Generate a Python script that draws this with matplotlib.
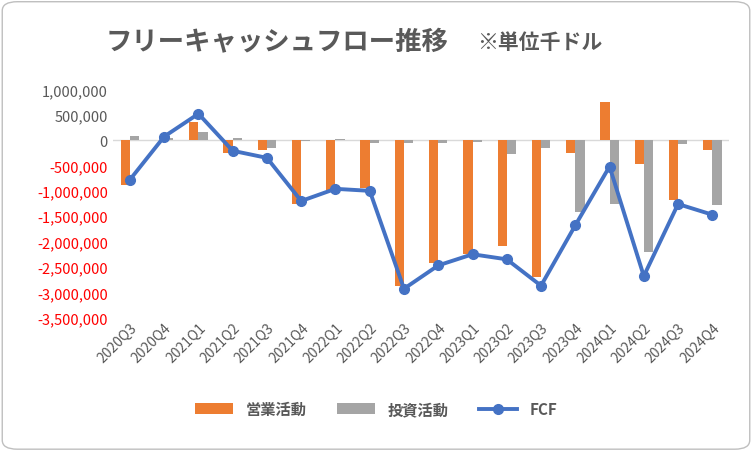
import numpy as np
import matplotlib.pyplot as plt
from matplotlib.patches import FancyBboxPatch
from matplotlib.ticker import FuncFormatter

plt.rcParams['font.family'] = ['Noto Sans CJK JP', 'DejaVu Sans']

quarters = ['2020Q3', '2020Q4', '2021Q1', '2021Q2', '2021Q3', '2021Q4',
            '2022Q1', '2022Q2', '2022Q3', '2022Q4', '2023Q1', '2023Q2',
            '2023Q3', '2023Q4', '2024Q1', '2024Q2', '2024Q3', '2024Q4']
operating = [-880000, 10000, 350000, -250000, -200000, -1250000,
             -980000, -950000, -2880000, -2420000, -2250000, -2080000,
             -2700000, -250000, 750000, -480000, -1180000, -200000]
investing = [80000, 50000, 170000, 40000, -150000, -20000,
             30000, -50000, -50000, -50000, -30000, -270000,
             -150000, -1420000, -1250000, -2200000, -80000, -1270000]
fcf = [-780000, 70000, 520000, -210000, -350000, -1200000,
       -960000, -1000000, -2930000, -2470000, -2250000, -2350000,
       -2870000, -1680000, -520000, -2680000, -1260000, -1470000]

fig = plt.figure(figsize=(7.52, 4.52), dpi=100)
fig.patches.append(FancyBboxPatch((0.003, 0.004), 0.994, 0.99, boxstyle='round,pad=0,rounding_size=0.02',
                                  transform=fig.transFigure, fill=False, ec='#bfbfbf', lw=1))
ax = fig.add_axes([0.15, 0.295, 0.82, 0.505])

x = np.arange(len(quarters))
w = 0.27
b1 = ax.bar(x - w / 2, operating, w, color='#ED7D31', label='営業活動', zorder=2)
b2 = ax.bar(x + w / 2, investing, w, color='#A5A5A5', label='投資活動', zorder=2)
l1, = ax.plot(x, fcf, color='#4472C4', lw=2.8, marker='o', ms=7, label='FCF', zorder=3)

ax.set_ylim(-3500000, 1000000)
ax.set_yticks(np.arange(-3500000, 1000001, 500000))
ax.yaxis.set_major_formatter(FuncFormatter(lambda v, p: f'{int(v):,}' if v != 0 else '0'))
for t, v in zip(ax.get_yticklabels(), ax.get_yticks()):
    t.set_color('#FF0000' if v < 0 else '#595959')
ax.tick_params(axis='y', length=0, labelsize=10.5)
ax.set_xlim(-0.5, len(quarters) - 0.5)
ax.set_xticks(x)
ax.set_xticklabels(quarters, rotation=45, ha='right', rotation_mode='anchor', color='#595959', fontsize=10)
ax.tick_params(axis='x', length=0, pad=2)
ax.axhline(0, color='#d9d9d9', lw=1, zorder=1)
for s in ax.spines.values():
    s.set_visible(False)

fig.text(0.14, 0.905, 'フリーキャッシュフロー推移', fontsize=19, fontweight='bold', color='#595959', va='center')
fig.text(0.635, 0.905, '※単位千ドル', fontsize=15, fontweight='bold', color='#595959', va='center')
fig.legend(handles=[b1, b2, l1], loc='lower center', bbox_to_anchor=(0.5, 0.045), ncol=3, frameon=False,
           prop={'size': 11, 'weight': 'bold'}, labelcolor='#595959', handlelength=2.5, columnspacing=2)

fig.savefig('out.png')
